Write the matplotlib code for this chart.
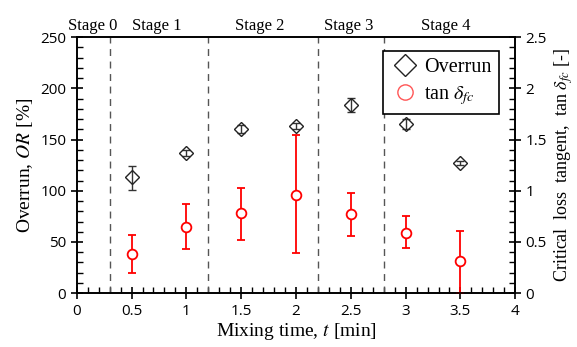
import matplotlib
matplotlib.use('Agg')
import matplotlib.pyplot as plt
from matplotlib.ticker import MultipleLocator
from matplotlib.lines import Line2D

plt.rcParams['mathtext.fontset'] = 'stix'

# data
t = [0.5, 1.0, 1.5, 2.0, 2.5, 3.0, 3.5]
overrun = [113, 137, 160, 163, 184, 165, 127]
overrun_lo = [12, 3, 4, 3, 7, 5, 2]
overrun_hi = [11, 3, 4, 3, 7, 5, 2]
tand = [0.38, 0.65, 0.78, 0.96, 0.77, 0.59, 0.31]
tand_lo = [0.18, 0.22, 0.26, 0.57, 0.21, 0.15, 0.31]
tand_hi = [0.19, 0.22, 0.25, 0.58, 0.21, 0.16, 0.30]
stage_bounds = [0.3, 1.2, 2.2, 2.8]
stage_names = ['Stage 0', 'Stage 1', 'Stage 2', 'Stage 3', 'Stage 4']
stage_pos = [0.15, 0.73, 1.67, 2.48, 3.37]

serif = 'Liberation Serif'
sans = 'Open Sans'

fig = plt.figure(figsize=(5.77, 3.47), dpi=100)
ax = fig.add_axes([0.133, 0.155, 0.76, 0.738])
ax2 = ax.twinx()

ax.errorbar(t, overrun, yerr=[overrun_lo, overrun_hi], fmt='D', ms=7,
            mfc='none', mec='#222222', ecolor='#333333', elinewidth=1,
            capsize=3, mew=1, label='Overrun')
ax2.errorbar(t, tand, yerr=[tand_lo, tand_hi], fmt='o', ms=7,
             mfc='white', mec='red', ecolor='red', elinewidth=1.3,
             capsize=3, mew=1.3, label=r'tan $\delta_{fc}$')

for b in stage_bounds:
    ax.axvline(b, color='#555555', ls=(0, (5, 4)), lw=1)
for n, p in zip(stage_names, stage_pos):
    ax.text(p, 253, n, ha='center', va='bottom', fontsize=12, family=serif)

ax.set_xlim(0, 4)
ax.set_ylim(0, 250)
ax2.set_ylim(0, 2.5)

ax.xaxis.set_minor_locator(MultipleLocator(0.1))
ax.yaxis.set_major_locator(MultipleLocator(50))
ax.yaxis.set_minor_locator(MultipleLocator(10))
ax2.yaxis.set_minor_locator(MultipleLocator(0.1))

ax.set_xticks([0, 0.5, 1, 1.5, 2, 2.5, 3, 3.5, 4])
ax.set_xticklabels(['0', '0.5', '1', '1.5', '2', '2.5', '3', '3.5', '4'])
ax2.set_yticks([0, 0.5, 1, 1.5, 2, 2.5])
ax2.set_yticklabels(['0', '0.5', '1', '1.5', '2', '2.5'])

ax.tick_params(axis='both', which='major', direction='inout', length=8, width=1.2,
               labelsize=11, top=False)
ax.tick_params(axis='both', which='minor', direction='in', length=4, width=1, top=False)
ax2.tick_params(axis='y', which='major', direction='inout', length=8, width=1.2, labelsize=11)
ax2.tick_params(axis='y', which='minor', direction='in', length=4, width=1)
for lab in ax.get_xticklabels() + ax.get_yticklabels() + ax2.get_yticklabels():
    lab.set_family(sans)
for a in (ax, ax2):
    for s in a.spines.values():
        s.set_linewidth(1.2)

ax.set_xlabel(r'Mixing time, $t$ [min]', fontsize=14, family=serif, labelpad=2)
ax.set_ylabel(r'Overrun, $OR$ [%]', fontsize=14, family=serif)
ax2.set_ylabel(r'Critical  loss  tangent,  tan $\delta_{fc}$ [-]', fontsize=13, family=serif)

hd = [Line2D([], [], marker='D', ls='none', ms=11, mfc='none', mec='#222222'),
      Line2D([], [], marker='o', ls='none', ms=11, mfc='none', mec='#ff5555')]
leg = ax2.legend(hd, ['Overrun', r'tan $\delta_{fc}$'], loc='upper right',
                 bbox_to_anchor=(0.985, 0.985), fancybox=False, edgecolor='black',
                 framealpha=1, prop={'family': serif, 'size': 14.5}, handletextpad=0.2,
                 borderpad=0.35, labelspacing=0.35, handlelength=1.5)
leg.get_frame().set_linewidth(1.2)

fig.savefig('out.png', dpi=100)
